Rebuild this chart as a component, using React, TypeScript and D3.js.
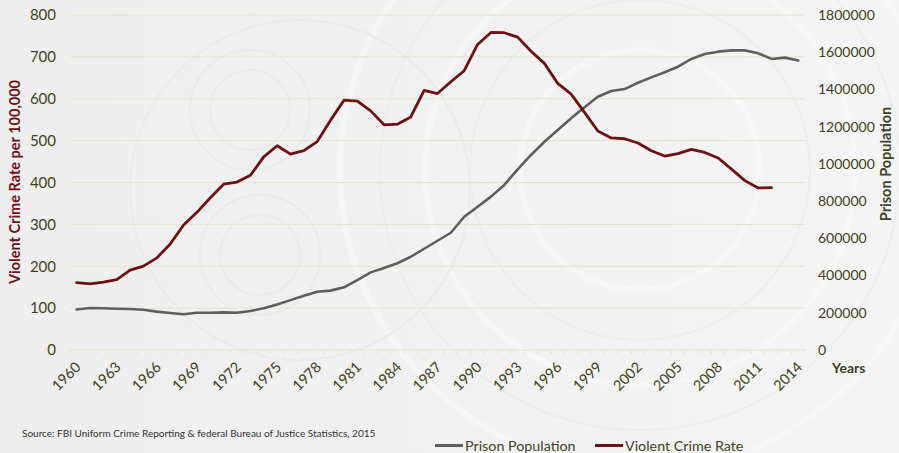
import React, { useEffect, useRef } from 'react';
import * as d3 from 'd3';

const years = [
  1960, 1961, 1962, 1963, 1964, 1965, 1966, 1967, 1968, 1969,
  1970, 1971, 1972, 1973, 1974, 1975, 1976, 1977, 1978, 1979,
  1980, 1981, 1982, 1983, 1984, 1985, 1986, 1987, 1988, 1989,
  1990, 1991, 1992, 1993, 1994, 1995, 1996, 1997, 1998, 1999,
  2000, 2001, 2002, 2003, 2004, 2005, 2006, 2007, 2008, 2009,
  2010, 2011, 2012, 2013, 2014,
];

const prisonPopulation = [
  218000, 226000, 224000, 222000, 220000, 216000, 206000, 199000, 192000, 200000,
  200000, 202000, 200000, 210000, 224000, 245000, 268000, 292000, 313000, 319000,
  337000, 376000, 417000, 441000, 466000, 501000, 544000, 587000, 630000, 716000,
  770000, 824000, 887000, 971000, 1048000, 1119000, 1182000, 1245000, 1304000, 1361000,
  1392000, 1402000, 1436000, 1465000, 1492000, 1522000, 1564000, 1590000, 1603000, 1610000,
  1610000, 1594000, 1564000, 1571000, 1556000,
];

const violentCrimeRate: (number | null)[] = [
  160.9, 158.1, 162.3, 168.2, 190.6, 200.2, 220.0, 253.2, 298.4, 328.7,
  363.5, 396.0, 401.0, 417.4, 461.1, 487.8, 467.8, 475.9, 497.8, 548.9,
  596.6, 594.3, 571.1, 537.7, 539.2, 556.6, 620.1, 612.5, 640.6, 666.9,
  729.6, 758.2, 757.7, 747.1, 713.6, 684.5, 636.6, 611.0, 567.6, 523.0,
  506.5, 504.5, 494.4, 475.8, 463.2, 469.0, 479.3, 471.8, 458.6, 431.9,
  404.5, 387.1, 387.8, null, null,
];

const leftTicks = [0, 100, 200, 300, 400, 500, 600, 700, 800];
const rightTicks = [0, 200000, 400000, 600000, 800000, 1000000, 1200000, 1400000, 1600000, 1800000];
const labelYears = [1960, 1963, 1966, 1969, 1972, 1975, 1978, 1981, 1984, 1987, 1990, 1993, 1996, 1999, 2002, 2005, 2008, 2011, 2014];

const W = 899;
const H = 453;
const FONT = 'Lato, "Open Sans", sans-serif';
const RED = '#6d1012';
const GRAY = '#5e5e5e';
const OLIVE = '#3e4222';
const GRID = '#e6e4c8';

const App: React.FC = () => {
  const svgRef = useRef<SVGSVGElement>(null);

  useEffect(() => {
    if (!svgRef.current) return;
    const svg = d3.select(svgRef.current);
    svg.selectAll('*').remove();

    const left = 70, right = 805, top = 15, bottom = 350;

    // background with a faint vault-door watermark
    const defs = svg.append('defs');
    const bg = defs.append('linearGradient').attr('id', 'bg').attr('x1', 0).attr('x2', 1).attr('y1', 0).attr('y2', 0);
    bg.append('stop').attr('offset', '0%').attr('stop-color', '#eeeeee');
    bg.append('stop').attr('offset', '100%').attr('stop-color', '#f4f4f4');
    svg.append('rect').attr('width', W).attr('height', H).attr('fill', 'url(#bg)');

    const wm = svg.append('g').attr('fill', 'none').attr('opacity', 0.55);
    [300, 260, 215, 170, 120].forEach((r, i) => {
      wm.append('circle').attr('cx', 640).attr('cy', 170).attr('r', r)
        .attr('stroke', i % 2 ? '#e9e9e9' : '#fafafa').attr('stroke-width', i % 2 ? 2 : 6);
    });
    [60, 40].forEach(r => {
      wm.append('circle').attr('cx', 250).attr('cy', 110).attr('r', r).attr('stroke', '#e6e6e6').attr('stroke-width', 2);
      wm.append('circle').attr('cx', 260).attr('cy', 255).attr('r', r).attr('stroke', '#e6e6e6').attr('stroke-width', 2);
    });
    wm.append('circle').attr('cx', 300).attr('cy', 190).attr('r', 170).attr('stroke', '#e6e6e6').attr('stroke-width', 2);

    const x = d3.scaleBand<number>().domain(years).range([left, right]).paddingInner(0).paddingOuter(0);
    const xc = (yr: number) => (x(yr) as number) + x.bandwidth() / 2;
    const yL = d3.scaleLinear().domain([0, 800]).range([bottom, top]);
    const yR = d3.scaleLinear().domain([0, 1800000]).range([bottom, top]);

    // gridlines
    svg.append('g').selectAll('line').data(leftTicks.slice(1)).join('line')
      .attr('x1', left).attr('x2', right)
      .attr('y1', d => yL(d)).attr('y2', d => yL(d))
      .attr('stroke', GRID).attr('stroke-width', 1);

    // x axis line + ticks between categories
    svg.append('line').attr('x1', left).attr('x2', right).attr('y1', bottom).attr('y2', bottom)
      .attr('stroke', GRID).attr('stroke-width', 1);
    svg.append('g').selectAll('line').data([...years, null]).join('line')
      .attr('x1', (d, i) => left + i * x.bandwidth()).attr('x2', (d, i) => left + i * x.bandwidth())
      .attr('y1', bottom).attr('y2', bottom + 4)
      .attr('stroke', GRID).attr('stroke-width', 1);

    // left axis labels
    svg.append('g').selectAll('text').data(leftTicks).join('text')
      .attr('x', 56).attr('y', d => yL(d)).attr('dy', '0.35em')
      .attr('text-anchor', 'end').attr('font-family', FONT).attr('font-size', 15)
      .attr('fill', OLIVE).text(d => d);

    // right axis labels
    svg.append('g').selectAll('text').data(rightTicks).join('text')
      .attr('x', 818).attr('y', d => yR(d)).attr('dy', '0.35em')
      .attr('text-anchor', 'start').attr('font-family', FONT).attr('font-size', 14)
      .attr('fill', OLIVE).text(d => d);

    // x labels rotated
    svg.append('g').selectAll('text').data(labelYears).join('text')
      .attr('transform', d => `translate(${xc(d) + 5},${bottom + 18}) rotate(-45)`)
      .attr('text-anchor', 'end').attr('font-family', FONT).attr('font-size', 14.5)
      .attr('fill', OLIVE).text(d => d);

    // axis titles
    svg.append('text')
      .attr('transform', `translate(20,182) rotate(-90)`)
      .attr('text-anchor', 'middle').attr('font-family', FONT).attr('font-weight', 'bold')
      .attr('font-size', 14.5).attr('fill', RED).text('Violent Crime Rate per 100,000');
    svg.append('text')
      .attr('transform', `translate(891,164) rotate(-90)`)
      .attr('text-anchor', 'middle').attr('font-family', FONT).attr('font-weight', 'bold')
      .attr('font-size', 14.5).attr('fill', OLIVE).text('Prison Population');
    svg.append('text')
      .attr('x', 832).attr('y', 373).attr('font-family', FONT).attr('font-weight', 'bold')
      .attr('font-size', 14).attr('fill', OLIVE).text('Years');

    // series lines
    const prisonLine = d3.line<number>()
      .x((d, i) => xc(years[i]))
      .y(d => yR(d));
    svg.append('path').attr('d', prisonLine(prisonPopulation))
      .attr('fill', 'none').attr('stroke', GRAY).attr('stroke-width', 2.6)
      .attr('stroke-linejoin', 'round').attr('stroke-linecap', 'round');

    const crimeLine = d3.line<number | null>()
      .defined(d => d != null)
      .x((d, i) => xc(years[i]))
      .y(d => yL(d as number));
    svg.append('path').attr('d', crimeLine(violentCrimeRate))
      .attr('fill', 'none').attr('stroke', RED).attr('stroke-width', 2.8)
      .attr('stroke-linejoin', 'round').attr('stroke-linecap', 'round');

    // source note
    svg.append('text')
      .attr('x', 22).attr('y', 437).attr('font-family', FONT).attr('font-size', 10)
      .attr('fill', '#333333').text('Source: FBI Uniform Crime Reporting & federal Bureau of Justice Statistics, 2015');

    // legend
    const legend = [
      { name: 'Prison Population', color: GRAY, x: 435 },
      { name: 'Violent Crime Rate', color: RED, x: 595 },
    ];
    legend.forEach(l => {
      svg.append('line').attr('x1', l.x).attr('x2', l.x + 28).attr('y1', 445.5).attr('y2', 445.5)
        .attr('stroke', l.color).attr('stroke-width', 3);
      svg.append('text').attr('x', l.x + 30).attr('y', 451).attr('font-family', FONT)
        .attr('font-size', 14.3).attr('fill', OLIVE).text(l.name);
    });
  }, []);

  return (
    <div style={{ position: 'absolute', left: 0, top: 0, width: W, height: H }}>
      <svg ref={svgRef} width={W} height={H} style={{ display: 'block' }} />
    </div>
  );
};

export default App;
